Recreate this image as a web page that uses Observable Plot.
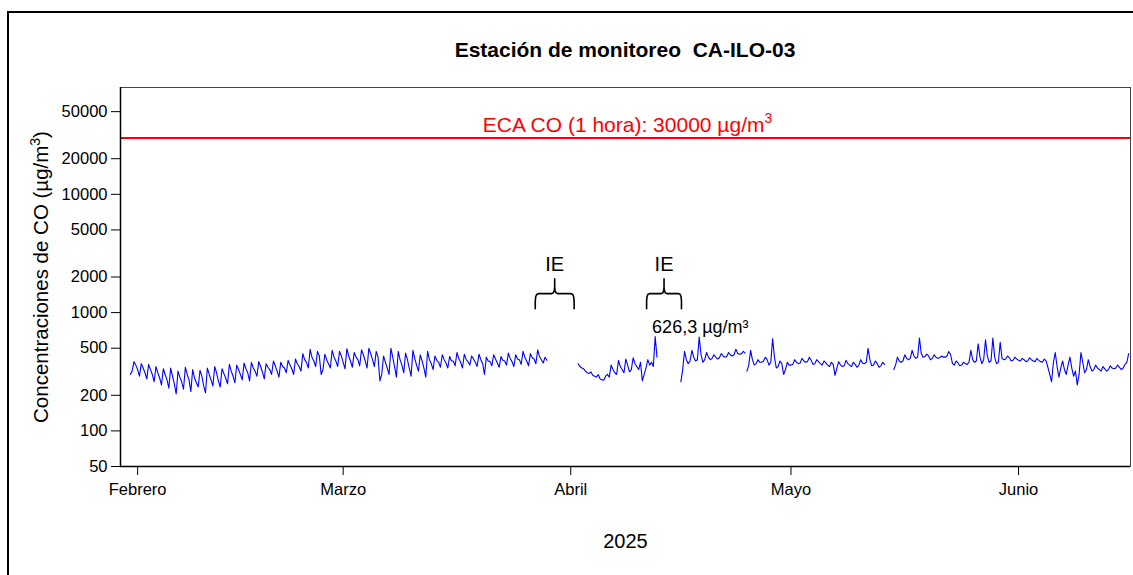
<!DOCTYPE html>
<html><head><meta charset="utf-8">
<script src="https://cdn.jsdelivr.net/npm/d3@7"></script>
<script src="https://cdn.jsdelivr.net/npm/@observablehq/plot@0.6"></script>
<style>
body{margin:0;background:#fff;font-family:"Liberation Sans",Arial,sans-serif;}
#wrap{position:relative;width:1133px;height:575px;overflow:hidden;background:#fff;}
#outer{position:absolute;left:7px;top:11px;width:1200px;height:700px;border-left:2px solid #000;border-top:2px solid #000;z-index:2;pointer-events:none;}
#title{position:absolute;left:120px;width:1010px;top:38px;height:24px;line-height:24px;font-size:21px;font-weight:bold;text-align:center;white-space:pre;color:#000;}
#chart{position:absolute;left:0;top:75px;}
</style></head><body>
<div id="wrap"><div id="outer"></div><div id="title">Estación de monitoreo  CA-ILO-03</div><div id="chart"></div></div>
<script>
// ---- data ----
const yTicks = [50, 100, 200, 500, 1000, 2000, 5000, 10000, 20000, 50000];
const monthTicks = ["2025-02-01", "2025-03-01", "2025-04-01", "2025-05-01", "2025-06-01"];
const monthLabels = ["Febrero", "Marzo", "Abril", "Mayo", "Junio"];
const xLabel = "2025";
const yLabel = "Concentraciones de CO (µg/m3)";
const ecaValue = 30000;
const ecaLabel = "ECA CO (1 hora): 30000 µg/m3";
// start time of each measured stretch; values every 6 h (00, 06, 12, 18)
const segStarts = ["2025-01-31T00:00Z", "2025-04-02T00:00Z", "2025-04-16T00:00Z", "2025-04-25T00:00Z", "2025-05-15T00:00Z"];
const seg1 = [
 300,320,385,360, 330,290,370,340, 310,275,365,330, 300,260,350,310, 280,245,335,300,
 270,230,340,290, 250,205,320,285, 260,225,345,300, 270,215,330,280, 255,235,325,290,
 240,210,340,300, 270,240,350,310, 265,235,335,305, 280,250,365,320, 290,255,360,330,
 300,270,375,335, 310,265,380,340, 320,290,385,350, 315,275,370,345, 330,300,390,355,
 320,285,380,350, 340,310,395,360, 335,300,405,370, 350,320,450,400, 380,340,490,420,
 390,350,470,430, 300,330,445,400, 370,340,480,420, 390,350,470,430,
 380,335,495,430, 390,345,460,420, 400,355,485,440, 390,340,500,450, 400,350,470,420,
 265,300,430,380, 340,300,500,420, 350,285,470,400, 360,310,455,400, 340,290,480,410,
 360,320,440,390, 340,285,470,400, 370,330,430,395, 380,345,440,400, 375,340,425,390,
 390,355,460,410, 380,340,445,400, 385,360,430,405, 380,350,445,400, 370,300,420,390,
 385,355,440,405, 375,345,425,395, 390,360,455,410, 385,350,440,405, 400,365,470,420,
 390,355,450,415, 405,370,485,425, 400,375,420,395];
const seg2 = [
 370,350,340,335, 320,310,305,315, 295,290,285,300, 275,270,268,290, 300,285,360,330,
 310,300,395,350, 330,310,405,360, 315,330,415,370, 350,330,380,265, 300,340,400,360,
 380,350,626.3,420];
const seg3 = [
 260,330,470,400, 370,390,480,420, 390,400,620,440, 380,400,460,420, 400,410,440,420,
 405,415,450,430, 420,425,460,440, 430,440,490,450, 445,450,470,455];
const seg4 = [
 320,360,480,400, 360,370,400,380, 380,390,420,400, 360,380,600,420, 340,350,390,370,
 300,330,380,360, 360,365,400,380, 370,375,410,390, 380,385,420,395, 365,370,400,385,
 370,360,390,375, 360,350,380,365, 295,340,385,360, 350,355,395,370, 360,350,380,365,
 345,360,400,375, 370,380,500,400, 355,360,390,370, 345,355,380,365];
const seg5 = [
 330,360,420,390, 380,390,440,410, 400,410,480,430, 410,420,610,450, 420,425,445,430,
 400,410,440,420, 410,415,430,420, 420,430,470,440, 370,360,390,375, 355,360,380,370,
 365,380,480,400, 380,390,545,420, 370,400,590,430, 380,390,610,420, 370,380,560,410,
 400,405,430,415, 390,395,420,405, 395,390,410,400, 385,390,415,400, 390,385,410,395,
 385,380,405,390, 345,300,260,380, 460,350,285,340, 390,330,300,360, 420,340,290,320,
 245,300,460,380, 310,330,400,350, 320,330,360,340, 330,320,350,335, 320,330,355,340,
 335,340,360,345, 330,340,365,380, 450];
const segValues = [seg1, seg2, seg3, seg4, seg5];
// annotations
const ieSpans = [["2025-03-27T04:00Z", "2025-04-01T11:00Z"], ["2025-04-11T08:00Z", "2025-04-16T02:00Z"]];
const ieText = "IE";
const ieBraceBase = 1080;   // bottom of brace legs (µg/m3 level)
const ieTextLevel = 2540;
const peakLabel = "626,3 µg/m³";
const peakLabelAt = "2025-04-12T02:00Z";
const peakLabelLevel = 752;

// ---- build tables ----
const STEP = 6 * 3600 * 1000;
const rows = [];
segValues.forEach((vals, s) => {
  const t0 = new Date(segStarts[s]).getTime();
  vals.forEach((v, i) => rows.push({date: new Date(t0 + i * STEP), value: v, seg: s}));
});
const braceShape = [[0,0],[0,0.5],[0.01,0.78],[0.035,0.94],[0.08,1],[0.42,1],[0.465,1.06],[0.49,1.2],[0.5,1.45],[0.5,2],
  [0.5,1.45],[0.51,1.2],[0.535,1.06],[0.58,1],[0.92,1],[0.965,0.94],[0.99,0.78],[1,0.5],[1,0]];
const braceRows = [];
ieSpans.forEach(([a, b], k) => {
  const ta = new Date(a).getTime(), tb = new Date(b).getTime();
  braceShape.forEach(([fx, fy]) => braceRows.push({date: new Date(ta + fx * (tb - ta)), value: ieBraceBase * Math.pow(10, 0.1267 * fy), k}));
});
const ieRows = ieSpans.map(([a, b]) => ({date: new Date((new Date(a).getTime() + new Date(b).getTime()) / 2), value: ieTextLevel}));
const tickDates = monthTicks.map(d => new Date(d + "T00:00Z"));
const xStart = new Date("2025-01-29T16:00Z"), xEnd = new Date("2025-06-16T06:00Z");

const FONT = '"Liberation Sans", Arial, sans-serif';
const chart = Plot.plot({
  width: 1133, height: 500,
  marginTop: 12, marginLeft: 120, marginRight: 3, marginBottom: 109,
  style: {fontFamily: FONT, fontSize: "16.5px", color: "#000", background: "transparent", overflow: "visible"},
  x: {type: "utc", domain: [xStart, xEnd],
      ticks: tickDates, tickFormat: d => monthLabels[tickDates.findIndex(t => t.getTime() === d.getTime())],
      tickSize: 9, tickPadding: 8, label: null},
  y: {type: "log", domain: [50, 80000], ticks: yTicks, tickFormat: () => "", tickSize: 9, tickPadding: 4, label: null},
  marks: [
    Plot.frame({stroke: "#444", strokeWidth: 1}),
    Plot.ruleY([ecaValue], {stroke: "#ff0000", strokeWidth: 2}),
    Plot.line(rows, {x: "date", y: "value", z: "seg", stroke: "#0000ff", strokeWidth: 1.1}),
    Plot.line(braceRows, {x: "date", y: "value", z: "k", stroke: "#000", strokeWidth: 1.6, curve: "linear"}),
    Plot.text(ieRows, {x: "date", y: "value", text: () => ieText, fontSize: 20, fill: "#000"}),
    Plot.text([{d: new Date(peakLabelAt), v: peakLabelLevel}], {x: "d", y: "v", text: () => peakLabel, textAnchor: "start", fontSize: 18, fill: "#000"}),
    Plot.text([{v: ecaValue}], {y: "v", text: () => ecaLabel, frameAnchor: "middle", dx: 2, dy: -13, fontSize: 21, fill: "#ff0000"}),
    Plot.text(yTicks, {y: d => d, text: d => String(d), frameAnchor: "left", textAnchor: "end", dx: -13, fontSize: 16.5, fill: "#000"}),
    Plot.text([yLabel], {text: d => d, frameAnchor: "left", textAnchor: "middle", rotate: -90, dx: -79, fontSize: 20.5, fill: "#000"}),
    Plot.text([xLabel], {text: d => d, frameAnchor: "bottom", textAnchor: "middle", dy: 81, fontSize: 20, fill: "#000"}),
    Plot.ruleX([xStart], {stroke: "#000", strokeWidth: 1.5}),
    Plot.ruleY([50], {stroke: "#000", strokeWidth: 1.5})
  ]
});
// superscript "3" in unit labels
d3.select(chart).selectAll("text").each(function() {
  const t = this.textContent;
  if (t === ecaLabel) {
    const el = d3.select(this);
    el.text(t.slice(0, -1));
    el.append("tspan").attr("font-size", "14px").attr("dy", "-9").text("3");
  } else if (t === yLabel) {
    const el = d3.select(this);
    el.text(t.slice(0, -2));
    el.append("tspan").attr("font-size", "14px").attr("dy", "-8").text("3");
    el.append("tspan").attr("dy", "8").text(")");
  }
});
document.getElementById("chart").appendChild(chart);
</script>
</body></html>
